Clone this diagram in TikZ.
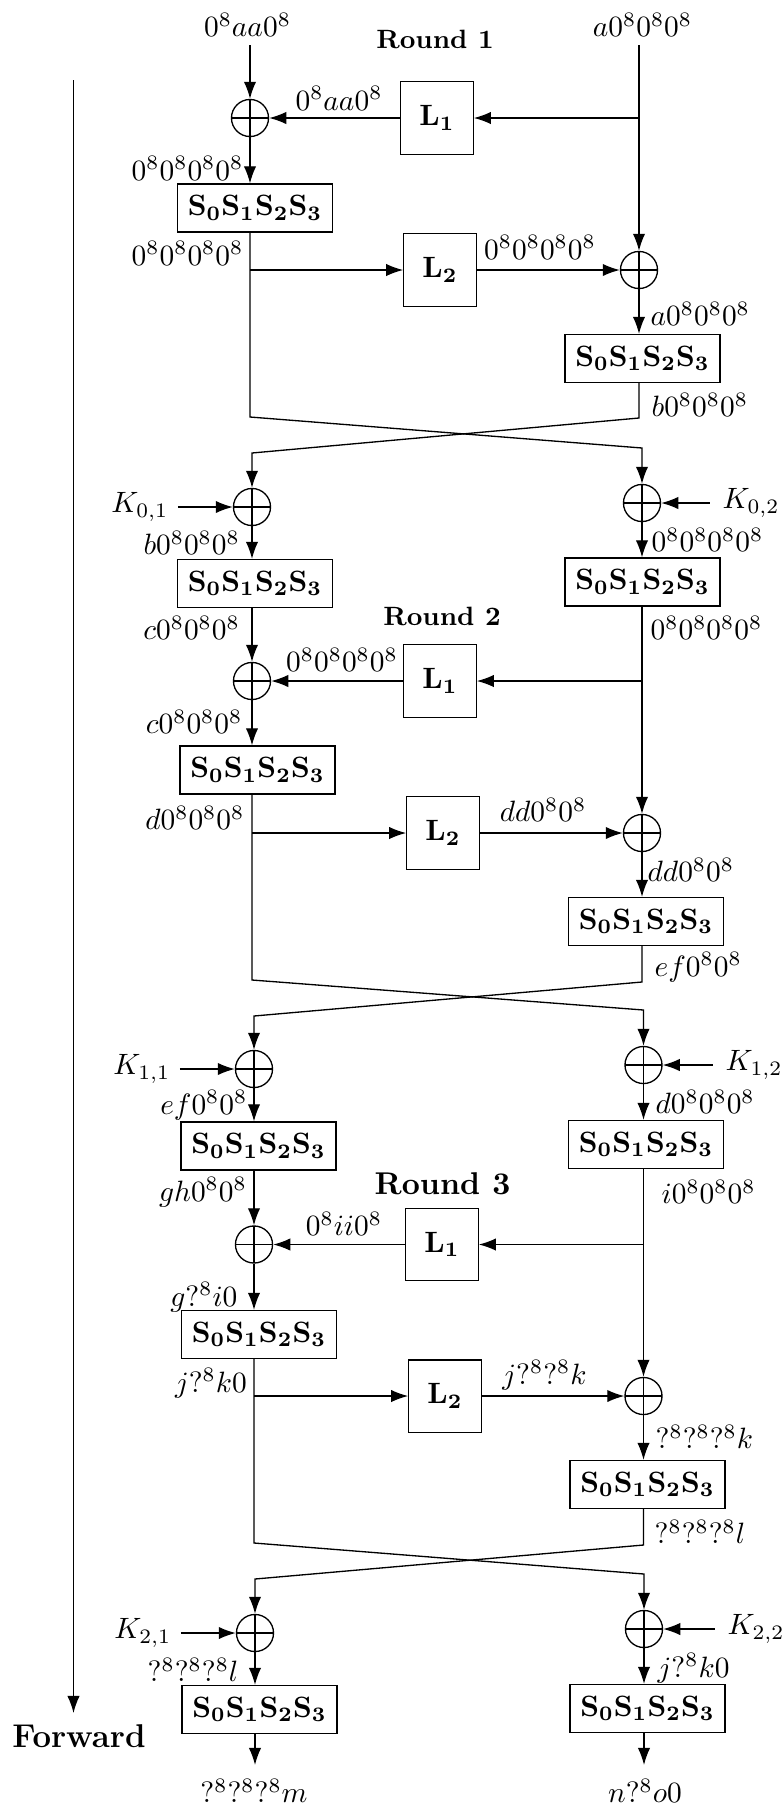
\documentclass[tikz,border=0pt]{standalone}
\usetikzlibrary{arrows.meta}
\begin{document}
\begin{tikzpicture}[x=0.34pt,y=-0.34pt,line width=0.45pt,
  sbox/.style={draw, minimum width=52.7pt, minimum height=16.3pt, inner sep=0pt},
  lbox/.style={draw, minimum size=24.6pt, inner sep=0pt},
  xor/.style={draw, circle, minimum size=12.6pt, inner sep=0pt,
    path picture={\draw (path picture bounding box.north) -- (path picture bounding box.south)
                        (path picture bounding box.west) -- (path picture bounding box.east);}},
  lab/.style={inner sep=0pt},
  arr/.style={-{Latex[length=5.8pt,width=4.2pt]}},
  rnd/.style={inner sep=0pt, font=\small\bfseries}]
\useasboundingbox (0,0) rectangle (783,1807);
\newcommand{\SB}{$\mathbf{S_0S_1S_2S_3}$}

% ---------- top ----------
\node[lab] (inL) at (247.5,25) {$0^8aa0^8$};
\node[lab] (inR) at (642.5,25) {$a0^80^80^8$};
\node[rnd] (r1) at (435,39) {Round 1};
\coordinate (tL) at (250,45);
\coordinate (tR) at (639,45);

% ---------- round 1 ----------
\node[xor] (x1) at (250,118) {};
\node[lbox] (L1a) at (437,118) {$\mathbf{L_1}$};
\node[sbox] (S1) at (255,208) {\SB};
\node[lbox] (L2a) at (440,270) {$\mathbf{L_2}$};
\node[xor] (x2) at (639,270) {};
\node[sbox] (S2) at (642.5,358.5) {\SB};

\node[lab] (m1) at (339,98.5) {$0^8aa0^8$};
\node[lab,anchor=east] (l1) at (244,168.5) {$0^80^80^80^8$};
\node[lab,anchor=east] (l2) at (244,253.5) {$0^80^80^80^8$};
\node[lab] (m2) at (540,247.5) {$0^80^80^80^8$};
\node[lab,anchor=west] (r1a) at (650,314) {$a0^80^80^8$};
\node[lab,anchor=west] (r1b) at (651,405) {$b0^80^80^8$};

\coordinate (br1) at (x2 |- L1a);
\draw[arr] (tL) -- (x1.north);
\draw (tR) -- (br1);
\draw[arr] (br1) -- (x2.north);
\draw[arr] (br1) -- (L1a.east);
\draw[arr] (L1a.west) -- (x1.east);
\draw[arr] (x1.south) -- (x1 |- S1.north);
\draw[arr] (x1 |- L2a) -- (L2a.west);
\draw[arr] (L2a.east) -- (x2.west);
\draw[arr] (x2.south) -- (x2 |- S2.north);

% ---------- round 2 ----------
\node[xor] (k01) at (252,507) {};
\node[xor] (k02) at (642,503) {};
\node[lab,anchor=east] (K01) at (169,507) {$K_{0,1}$};
\node[lab,anchor=west] (K02) at (722,503) {$K_{0,2}$};
\node[sbox] (S3) at (255,583.5) {\SB};
\node[sbox] (S5) at (642.5,582) {\SB};
\node[rnd] (r2) at (442,616) {Round 2};
\node[xor] (x3) at (252,681) {};
\node[lbox] (L1b) at (440,681) {$\mathbf{L_1}$};
\node[sbox] (S4) at (257.5,770) {\SB};
\node[lbox] (L2b) at (443,833) {$\mathbf{L_2}$};
\node[xor] (x4) at (642,833) {};
\node[sbox] (S6) at (646,921.5) {\SB};

\node[lab,anchor=east] (l3) at (240.5,543) {$b0^80^80^8$};
\node[lab,anchor=west] (r3) at (651,540) {$0^80^80^80^8$};
\node[lab,anchor=east] (l4) at (240.5,628) {$c0^80^80^8$};
\node[lab,anchor=west] (r4) at (650,628) {$0^80^80^80^8$};
\node[lab] (m3) at (342,660) {$0^80^80^80^8$};
\node[lab,anchor=east] (l5) at (243,722) {$c0^80^80^8$};
\node[lab,anchor=east] (l6) at (245,818) {$d0^80^80^8$};
\node[lab] (m4) at (543,810) {$dd0^80^8$};
\node[lab,anchor=west] (r5) at (647,870) {$dd0^80^8$};
\node[lab,anchor=west] (r6) at (654,967) {$ef0^80^8$};

% cross 1 -> 2
\coordinate (a1) at (250,417);
\coordinate (a2) at (642,448);
\coordinate (b1) at (639,418);
\coordinate (b2) at (252,453);
\draw[arr] (x1 |- S1.south) -- (a1) -- (a2) -- (k02.north);
\draw[arr] (x2 |- S2.south) -- (b1) -- (b2) -- (k01.north);

\draw[arr,shorten <=3pt] (K01.east) -- (k01.west);
\draw[arr,shorten <=4.2pt] (K02.west) -- (k02.east);
\draw[arr] (k01.south) -- (k01 |- S3.north);
\draw[arr] (k02.south) -- (k02 |- S5.north);
\coordinate (br2) at (k02 |- L1b);
\draw[arr] (k01 |- S3.south) -- (x3.north);
\draw (k02 |- S5.south) -- (br2);
\draw[arr] (br2) -- (x4.north);
\draw[arr] (br2) -- (L1b.east);
\draw[arr] (L1b.west) -- (x3.east);
\draw[arr] (x3.south) -- (x3 |- S4.north);
\draw[arr] (x3 |- L2b) -- (L2b.west);
\draw[arr] (L2b.east) -- (x4.west);
\draw[arr] (x4.south) -- (x4 |- S6.north);

% ---------- round 3 ----------
\node[xor] (k11) at (254,1069) {};
\node[xor] (k12) at (643.5,1065) {};
\node[lab,anchor=east] (K11) at (171,1069) {$K_{1,1}$};
\node[lab,anchor=west] (K12) at (725,1065) {$K_{1,2}$};
\node[sbox] (S7) at (258.5,1146) {\SB};
\node[sbox] (S8) at (646,1144.5) {\SB};
\node[rnd,font=\fontsize{10.7}{12}\selectfont\bfseries] (r3) at (442.5,1184) {Round 3};
\node[xor] (x5) at (254,1244.5) {};
\node[lbox] (L1c) at (442,1244.5) {$\mathbf{L_1}$};
\node[sbox] (S9) at (259,1334.5) {\SB};
\node[lbox] (L2c) at (445,1396) {$\mathbf{L_2}$};
\node[xor] (x6) at (643.5,1396) {};
\node[sbox] (S10) at (647.5,1484.5) {\SB};

\node[lab,anchor=east] (l7) at (248,1105) {$ef0^80^8$};
\node[lab,anchor=west] (r7) at (655,1102) {$d0^80^80^8$};
\node[lab,anchor=east] (l8) at (247.5,1192) {$gh0^80^8$};
\node[lab,anchor=west] (r8) at (661,1192) {$i0^80^80^8$};
\node[lab] (m5) at (344,1224) {$0^8ii0^8$};
\node[lab,anchor=east] (l9) at (238,1297) {$g?^8i0$};
\node[lab,anchor=east] (l10) at (247.5,1383) {$j?^8k0$};
\node[lab] (m6) at (544.5,1375) {$j?^8?^8k$};
\node[lab,anchor=west] (r9) at (655,1437) {$?^8?^8?^8k$};
\node[lab,anchor=west] (r10) at (654,1532) {$?^8?^8?^8l$};

% cross 2 -> 3
\coordinate (a3) at (252,980);
\coordinate (a4) at (643.5,1010);
\coordinate (b3) at (642,982);
\coordinate (b4) at (254,1016);
\draw[arr] (x3 |- S4.south) -- (a3) -- (a4) -- (k12.north);
\draw[arr] (x4 |- S6.south) -- (b3) -- (b4) -- (k11.north);

\draw[arr,shorten <=3pt] (K11.east) -- (k11.west);
\draw[arr,shorten <=4.2pt] (K12.west) -- (k12.east);
\draw[arr] (k11.south) -- (k11 |- S7.north);
\draw[arr] (k12.south) -- (k12 |- S8.north);
\coordinate (br3) at (k12 |- L1c);
\draw[arr] (k11 |- S7.south) -- (x5.north);
\draw (k12 |- S8.south) -- (br3);
\draw[arr] (br3) -- (x6.north);
\draw[arr] (br3) -- (L1c.east);
\draw[arr] (L1c.west) -- (x5.east);
\draw[arr] (x5.south) -- (x5 |- S9.north);
\draw[arr] (x5 |- L2c) -- (L2c.west);
\draw[arr] (L2c.east) -- (x6.west);
\draw[arr] (x6.south) -- (x6 |- S10.north);

% ---------- final ----------
\node[xor] (k21) at (255,1633) {};
\node[xor] (k22) at (644,1629) {};
\node[lab,anchor=east] (K21) at (172,1633) {$K_{2,1}$};
\node[lab,anchor=west] (K22) at (727,1629) {$K_{2,2}$};
\node[sbox] (S11) at (259.5,1709.5) {\SB};
\node[sbox] (S12) at (647.5,1708.5) {\SB};
\node[lab,anchor=east] (l11) at (239,1670) {$?^8?^8?^8l$};
\node[lab,anchor=west] (r11) at (657,1668) {$j?^8k0$};
\node[lab] (oL) at (254,1791) {$?^8?^8?^8m$};
\node[lab] (oR) at (645,1791) {$n?^8o0$};

% cross 3 -> 4
\coordinate (a5) at (254,1543);
\coordinate (a6) at (644,1574);
\coordinate (b5) at (643.5,1545);
\coordinate (b6) at (255,1579);
\draw[arr] (x5 |- S9.south) -- (a5) -- (a6) -- (k22.north);
\draw[arr] (x6 |- S10.south) -- (b5) -- (b6) -- (k21.north);

\draw[arr,shorten <=3pt] (K21.east) -- (k21.west);
\draw[arr,shorten <=4.2pt] (K22.west) -- (k22.east);
\draw[arr] (k21.south) -- (k21 |- S11.north);
\draw[arr] (k22.south) -- (k22 |- S12.north);
\coordinate (e1) at (k21 |- 0,1765);
\coordinate (e2) at (k22 |- 0,1765);
\draw[arr] (k21 |- S11.south) -- (e1);
\draw[arr] (k22 |- S12.south) -- (e2);

% ---------- forward ----------
\coordinate (f1) at (73.5,80);
\coordinate (f2) at (73.5,1713);
\draw[arr] (f1) -- (f2);
\node[inner sep=0pt,font=\fontsize{11.2}{13}\selectfont\bfseries] (fw) at (79,1736) {Forward};
\end{tikzpicture}
\end{document}
